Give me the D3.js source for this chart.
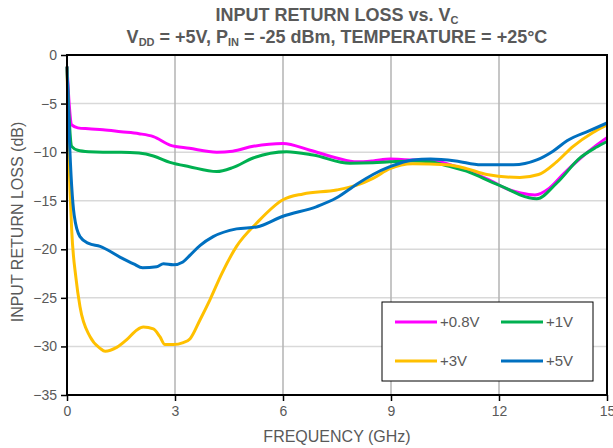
<!DOCTYPE html>
<html>
<head>
<meta charset="utf-8">
<script src="https://cdn.jsdelivr.net/npm/d3@7"></script>
<style>
  html, body { margin: 0; padding: 0; background: #fff; }
  svg { display: block; font-family: "Liberation Sans", Arial, sans-serif; }
</style>
</head>
<body>
<svg id="chart" width="613" height="448"></svg>
<script>
// Frequency (GHz) / return loss (dB) samples for each control voltage
const freq08 = [0, 0.06, 0.13, 0.3, 0.6, 1.0, 1.5, 2.0, 2.4, 2.86, 3.4, 4.16, 4.6, 5.17, 6.0, 6.75, 7.49, 8.05, 8.5, 8.97, 9.6, 10.1, 10.55, 11.2, 11.75, 12.3, 12.6, 13.0, 13.4, 13.8, 14.3, 14.7, 15.0];
const rl08   = [-1.2, -5.0, -7.2, -7.5, -7.6, -7.7, -7.9, -8.1, -8.4, -9.27, -9.6, -10.0, -9.9, -9.4, -9.1, -9.8, -10.6, -11.0, -10.9, -10.7, -10.8, -10.8, -11.2, -12.0, -12.9, -13.9, -14.2, -14.4, -13.7, -12.2, -10.5, -9.3, -8.5];

const freq1 = [0, 0.06, 0.13, 0.3, 0.6, 1.0, 1.5, 2.0, 2.4, 2.86, 3.4, 4.16, 4.6, 5.17, 6.1, 6.84, 7.86, 8.5, 8.97, 9.6, 10.1, 10.55, 11.2, 11.75, 12.3, 12.58, 13.05, 13.6, 14.25, 14.7, 15.0];
const rl1   = [-1.2, -6.5, -9.4, -9.8, -9.95, -10.0, -10.0, -10.1, -10.4, -11.05, -11.5, -12.0, -11.6, -10.6, -9.95, -10.3, -11.15, -11.1, -11.0, -10.9, -11.0, -11.4, -12.1, -13.0, -13.9, -14.4, -14.8, -13.2, -10.6, -9.5, -8.9];

const freq3 = [0, 0.05, 0.13, 0.25, 0.36, 0.64, 0.92, 1.06, 1.38, 1.66, 1.94, 2.12, 2.4, 2.58, 2.72, 2.95, 3.23, 3.42, 3.69, 3.97, 4.3, 4.71, 5.27, 6.0, 6.56, 7.49, 8.05, 8.5, 8.97, 9.6, 10.55, 11.1, 11.66, 12.58, 13.1, 13.6, 14.06, 14.6, 15.0];
const rl3   = [-1.2, -10.0, -18.0, -23.0, -25.9, -29.0, -30.2, -30.5, -30.1, -29.3, -28.3, -28.0, -28.2, -29.0, -29.8, -29.8, -29.6, -29.2, -27.3, -25.2, -22.5, -19.7, -17.3, -14.9, -14.3, -13.9, -13.4, -12.7, -11.7, -11.2, -11.3, -11.7, -12.3, -12.6, -12.3, -11.0, -9.4, -8.0, -7.2];

const freq5 = [0, 0.06, 0.13, 0.2, 0.36, 0.6, 0.92, 1.47, 1.85, 2.1, 2.49, 2.68, 2.95, 3.22, 3.42, 3.7, 4.06, 4.71, 5.27, 6.0, 6.94, 7.49, 8.05, 8.5, 8.97, 9.6, 10.1, 10.8, 11.5, 12.4, 13.05, 13.5, 13.9, 14.5, 15.0];
const rl5   = [-1.2, -8.0, -13.5, -16.5, -18.7, -19.4, -19.7, -20.8, -21.5, -21.9, -21.8, -21.5, -21.6, -21.3, -20.6, -19.6, -18.7, -17.9, -17.7, -16.6, -15.6, -14.7, -13.3, -12.3, -11.5, -10.8, -10.7, -10.9, -11.3, -11.3, -10.8, -9.9, -8.8, -7.8, -7.0];

const seriesNames  = ["+0.8V", "+1V", "+3V", "+5V"];
const seriesColors = ["#ff00ff", "#00b050", "#ffc000", "#0070c0"];
const xTicks = [0, 3, 6, 9, 12, 15];
const yTicks = [0, -5, -10, -15, -20, -25, -30, -35];

const series = [
  { name: seriesNames[0], color: seriesColors[0], x: freq08, y: rl08 },
  { name: seriesNames[1], color: seriesColors[1], x: freq1,  y: rl1 },
  { name: seriesNames[2], color: seriesColors[2], x: freq3,  y: rl3 },
  { name: seriesNames[3], color: seriesColors[3], x: freq5,  y: rl5 }
];

const svg = d3.select("#chart");
const plot = { left: 67, top: 55, right: 607, bottom: 395 };
const textColor = "#595959";

const x = d3.scaleLinear().domain([0, 15]).range([plot.left, plot.right]);
const y = d3.scaleLinear().domain([-35, 0]).range([plot.bottom, plot.top]);

// horizontal grid (light)
svg.append("g")
  .selectAll("line").data(yTicks.filter(v => v !== 0 && v !== -35)).join("line")
  .attr("x1", plot.left).attr("x2", plot.right)
  .attr("y1", d => y(d)).attr("y2", d => y(d))
  .attr("stroke", "#d9d9d9").attr("stroke-width", 1.5);

// vertical grid (darker)
svg.append("g")
  .selectAll("line").data(xTicks.filter(v => v !== 0 && v !== 15)).join("line")
  .attr("x1", d => x(d)).attr("x2", d => x(d))
  .attr("y1", plot.top).attr("y2", plot.bottom)
  .attr("stroke", "#b3b3b3").attr("stroke-width", 1.5);

// axes
const yAxis = d3.axisLeft(y).tickValues(yTicks).tickSize(6).tickPadding(4).tickFormat(d3.format("d"));
const xAxis = d3.axisBottom(x).tickValues(xTicks).tickSize(6).tickPadding(5).tickFormat(d3.format("d"));

const gy = svg.append("g").attr("transform", `translate(${plot.left},0)`).call(yAxis);
const gx = svg.append("g").attr("transform", `translate(0,${plot.bottom})`).call(xAxis);
[gx, gy].forEach(g => {
  g.select(".domain").remove();
  g.selectAll(".tick line").attr("stroke", "#000").attr("stroke-width", 1.5);
  g.selectAll(".tick text").attr("fill", textColor).style("font-size", "14px")
    .style("font-family", "'Liberation Sans', Arial, sans-serif");
});

// curves
const line = d3.line()
  .x(d => x(d[0])).y(d => y(d[1]))
  .curve(d3.curveMonotoneX);

svg.append("g").selectAll("path").data(series).join("path")
  .attr("d", s => line(s.x.map((v, i) => [v, s.y[i]])))
  .attr("fill", "none")
  .attr("stroke", s => s.color)
  .attr("stroke-width", 3)
  .attr("stroke-linejoin", "round");

// frame
svg.append("rect")
  .attr("x", plot.left).attr("y", plot.top)
  .attr("width", plot.right - plot.left).attr("height", plot.bottom - plot.top)
  .attr("fill", "none").attr("stroke", "#000").attr("stroke-width", 2);

// legend
const lg = svg.append("g");
lg.append("rect").attr("x", 382).attr("y", 302).attr("width", 211).attr("height", 79)
  .attr("fill", "#fff").attr("stroke", "#000").attr("stroke-width", 1);
const legendPos = [[395, 322], [501, 322], [395, 361], [501, 361]];
series.forEach((s, i) => {
  const [lx, ly] = legendPos[i];
  lg.append("line").attr("x1", lx).attr("x2", lx + 42).attr("y1", ly).attr("y2", ly)
    .attr("stroke", s.color).attr("stroke-width", 3);
  lg.append("text").attr("x", lx + 45).attr("y", ly).attr("dy", "0.35em")
    .attr("fill", textColor).style("font-size", "15px").text(s.name);
});

// titles
const t1 = svg.append("text").attr("x", 337).attr("y", 21).attr("text-anchor", "middle")
  .attr("fill", textColor).style("font-size", "18px").style("font-weight", "bold");
t1.append("tspan").text("INPUT RETURN LOSS vs. V");
t1.append("tspan").attr("dy", 3).style("font-size", "11px").text("C");

const t2 = svg.append("text").attr("x", 337).attr("y", 43).attr("text-anchor", "middle")
  .attr("fill", textColor).style("font-size", "18px").style("font-weight", "bold");
t2.append("tspan").text("V");
t2.append("tspan").attr("dy", 3).style("font-size", "11px").text("DD");
t2.append("tspan").attr("dy", -3).text(" = +5V, P");
t2.append("tspan").attr("dy", 3).style("font-size", "11px").text("IN");
t2.append("tspan").attr("dy", -3).text(" = -25 dBm, TEMPERATURE = +25°C");

// axis titles
svg.append("text").attr("x", 337).attr("y", 442).attr("text-anchor", "middle")
  .attr("fill", textColor).style("font-size", "16px").text("FREQUENCY (GHz)");
svg.append("text").attr("transform", "translate(23,222) rotate(-90)").attr("text-anchor", "middle")
  .attr("fill", textColor).style("font-size", "16px").text("INPUT RETURN LOSS (dB)");
</script>
</body>
</html>
